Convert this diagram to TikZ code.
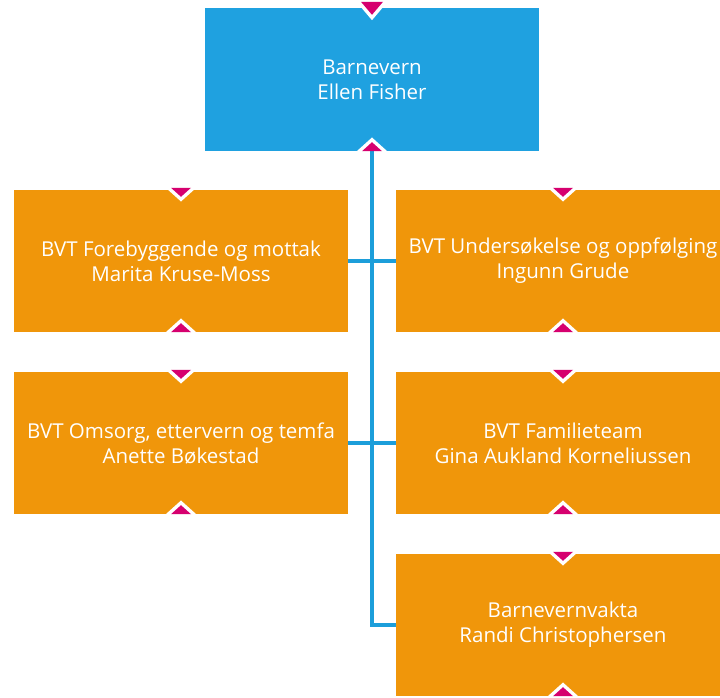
\documentclass[tikz,border=0pt]{standalone}
\usepackage{fontspec}
\setmainfont{Open Sans}
\definecolor{topblue}{RGB}{31,161,224}
\definecolor{boxorange}{RGB}{240,150,10}
\definecolor{tripink}{RGB}{214,0,111}
\definecolor{linkblue}{RGB}{28,158,218}
\begin{document}
\begin{tikzpicture}[x=1pt,y=1pt,
  orgbox/.style={minimum width=334pt,minimum height=142pt,inner sep=0pt,
    text=white,align=center,font=\fontsize{20.5}{25}\selectfont},
  link/.style={draw=linkblue,line width=3.2pt},
  triwhite/.style={draw=white,fill=white,line width=7pt,line join=miter},
  tripk/.style={fill=tripink}]
\clip (0,0) rectangle (720,697);
\useasboundingbox (0,0) rectangle (720,697);
\node[orgbox,fill=topblue,minimum height=143pt] (top) at (372,617.5) {Barnevern\\Ellen Fisher};
\node[orgbox,fill=boxorange] (l1) at (181,436) {BVT Forebyggende og mottak\\Marita Kruse-Moss};
\node[orgbox,fill=boxorange] (l2) at (181,254) {BVT Omsorg, ettervern og temfa\\Anette Bøkestad};
\node[orgbox,fill=boxorange] (r1) at (563,436) {BVT Undersøkelse og oppfølging\\Ingunn Grude};
\node[orgbox,fill=boxorange] (r2) at (563,254) {BVT Familieteam\\Gina Aukland Korneliussen};
\node[orgbox,fill=boxorange] (r3) at (563,72) {Barnevernvakta\\Randi Christophersen};
% white outlines of markers
\foreach \n in {l1,l2,r1,r2,r3}{
  \path[triwhite] ([xshift=-10pt,yshift=2pt]\n.north) -- ([xshift=10pt,yshift=2pt]\n.north) -- ([yshift=-7pt]\n.north) -- cycle;
  \path[triwhite] ([xshift=-10pt]\n.south) -- ([xshift=10pt]\n.south) -- ([yshift=9pt]\n.south) -- cycle;
}
\path[triwhite] ([xshift=-11pt,yshift=6pt]top.north) -- ([xshift=11pt,yshift=6pt]top.north) -- ([yshift=-7pt]top.north) -- cycle;
\path[triwhite] ([xshift=-10pt]top.south) -- ([xshift=10pt]top.south) -- ([yshift=9pt]top.south) -- cycle;
% connectors
\draw[link] (top.south) |- (r3.west);
\draw[link] (l1.east) -- (r1.west);
\draw[link] (l2.east) -- (r2.west);
% pink markers
\foreach \n in {l1,l2,r1,r2,r3}{
  \fill[tripk] ([xshift=-10pt,yshift=2pt]\n.north) -- ([xshift=10pt,yshift=2pt]\n.north) -- ([yshift=-7pt]\n.north) -- cycle;
  \fill[tripk] ([xshift=-10pt]\n.south) -- ([xshift=10pt]\n.south) -- ([yshift=9pt]\n.south) -- cycle;
}
\fill[tripk] ([xshift=-11pt,yshift=6pt]top.north) -- ([xshift=11pt,yshift=6pt]top.north) -- ([yshift=-7pt]top.north) -- cycle;
\fill[tripk] ([xshift=-10pt]top.south) -- ([xshift=10pt]top.south) -- ([yshift=9pt]top.south) -- cycle;
\end{tikzpicture}
\end{document}
